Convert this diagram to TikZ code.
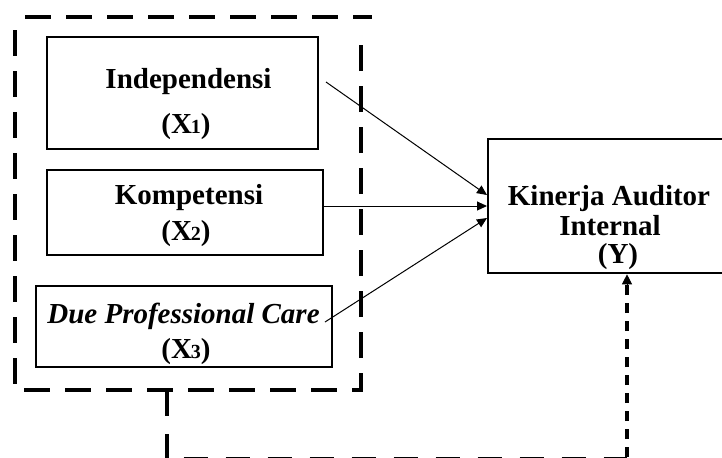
\documentclass[tikz,border=0pt]{standalone}
\usepackage{fontspec}
\setmainfont{Liberation Serif}
\usetikzlibrary{arrows.meta}
\newcommand{\sbx}[1]{\kern-0.6pt{\fontsize{10}{10}\selectfont #1}}
\begin{document}
\begin{tikzpicture}[x=0.5pt,y=-0.5pt,
  box/.style={draw,line width=1.3pt,inner sep=0pt,rectangle},
  lbl/.style={inner sep=0pt,anchor=base,font=\fontsize{14.5}{17}\selectfont\bfseries},
  bigdash/.style={line width=2pt,dash pattern=on 13pt off 7.5pt},
  smalldash/.style={line width=2pt,dash pattern=on 5pt off 4pt},
  arr/.style={line width=0.5pt,-{Triangle[length=5pt,width=4.5pt]}}]
\useasboundingbox (0,0) rectangle (722,457);
% boxes
\node[box,minimum width=135.5pt,minimum height=56pt] (x1) at (182.5,93) {};
\node[box,minimum width=138pt,minimum height=42.5pt] (x2) at (185,212.5) {};
\node[box,minimum width=148pt,minimum height=40.5pt] (x3) at (184,326.5) {};
\node[box,minimum width=126pt,minimum height=67pt] (y) at (614,206) {};
% labels
\node[lbl] (t1a) at (188.5,88) {Independensi};
\node[lbl] (t1b) at (186,133) {(X\sbx{1})};
\node[lbl] (t2a) at (189,204) {Kompetensi};
\node[lbl] (t2b) at (186,240) {(X\sbx{2})};
\node[lbl] (t3a) at (183.5,323) {\itshape Due Professional Care};
\node[lbl] (t3b) at (186,358) {(X\sbx{3})};
\node[lbl] (tya) at (609,205) {Kinerja Auditor};
\node[lbl] (tyb) at (610,235) {Internal};
\node[lbl] (tyc) at (618,263) {(Y)};
% dashed frame
\draw[bigdash] (25,17) -- (372,17);
\draw[bigdash] (15,30) -- (15,390) -- (361,390) -- (361,33);
% connector coordinates
\coordinate (s1) at (326,82);
\coordinate (e1) at (487,195);
\coordinate (s2) at (323,206);
\coordinate (e2) at (487,206);
\coordinate (s3) at (325,322);
\coordinate (e3) at (487,218);
\draw[arr] (s1) -- (e1);
\draw[arr] (s2) -- (e2);
\draw[arr] (s3) -- (e3);
% moderating path
\coordinate (d0) at (167,392);
\coordinate (d1) at (167,459.3);
\coordinate (d2) at (627,459.3);
\coordinate (d3) at (627,457);
\coordinate (d4) at (627,284);
\draw[bigdash,dash pattern=on 12pt off 9pt] (d0) -- (d1) -- (d2);
\draw[smalldash] (d3) -- (d4);
\draw[line width=0.5pt,-{Triangle[length=5pt,width=5pt]}] (d4) -- (y.south -| d4);
\end{tikzpicture}
\end{document}
